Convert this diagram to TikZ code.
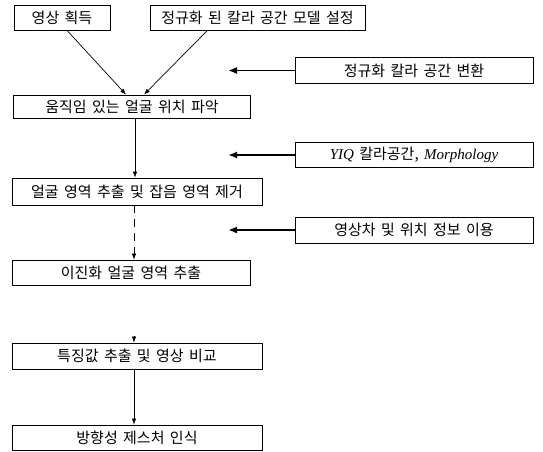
\documentclass[tikz,border=0pt]{standalone}
\usepackage{fontspec}
\setmainfont[WordSpace=1.6]{Noto Sans CJK KR}
\newfontfamily\serifL{Liberation Serif}
\usetikzlibrary{arrows.meta}
\tikzset{
  box/.style={draw=black, line width=0.8pt, fill=white, inner sep=0pt, font=\fontsize{15}{17}\selectfont},
  arr/.style={draw=black, line width=0.7pt, -{Latex[length=6pt,width=4.5pt]}},
  bigarr/.style={draw=black, line width=1.8pt, -{Latex[length=9pt,width=7pt]}},
}
\begin{document}
\begin{tikzpicture}[x=1pt,y=-1pt]
\useasboundingbox[fill=white] (0,0) rectangle (543,451);
% left column
\node[box, minimum width=96pt, minimum height=25pt] (b1) at (62,17.5) {영상 획득};
\node[box, minimum width=215pt, minimum height=25pt] (b2) at (257.5,17.5) {정규화 된 칼라 공간 모델 설정};
\node[box, minimum width=237pt, minimum height=23pt] (b3) at (132,106.5) {움직임 있는 얼굴 위치 파악};
\node[box, minimum width=250pt, minimum height=27pt] (b4) at (137,191.5) {얼굴 영역 추출 및 잡음 영역 제거};
\node[box, minimum width=238pt, minimum height=25pt] (b5) at (131,272.5) {이진화 얼굴 영역 추출};
\node[box, minimum width=250pt, minimum height=26pt] (b6) at (137,356) {특징값 추출 및 영상 비교};
\node[box, minimum width=250pt, minimum height=25pt] (b7) at (137,437.5) {방향성 제스처 인식};
% right column
\node[box, minimum width=238pt, minimum height=26pt] (r1) at (414,70.5) {정규화 칼라 공간 변환};
\node[box, minimum width=238pt, minimum height=25pt] (r2) at (414,155) {{\serifL\itshape YIQ} 칼라공간, {\serifL\itshape Morphology}};
\node[box, minimum width=238pt, minimum height=26pt] (r3) at (414,230) {영상차 및 위치 정보 이용};
% free ends
\coordinate (t1) at (228,70.5);
\coordinate (t2) at (228,155);
\coordinate (t3) at (228,230);
\coordinate (s6) at (134,336);
% connectors
\draw[arr] ([xshift=5pt]b1.south) -- ([xshift=-6pt]b3.north);
\draw[arr] ([xshift=-50pt]b2.south) -- ([xshift=12pt]b3.north);
\draw[arr] ([xshift=3pt]b3.south) -- ([xshift=-2pt]b4.north);
\draw[arr, dash pattern=on 8pt off 6pt] ([xshift=-3pt]b4.south) -- ([xshift=3pt]b5.north);
\draw[arr] (s6) -- (s6 |- b6.north);
\draw[arr] ([xshift=-3pt]b6.south) -- ([xshift=-3pt]b7.north);
\draw[bigarr] (r1.west) -- (t1);
\draw[bigarr] (r2.west) -- (t2);
\draw[bigarr] (r3.west) -- (t3);
\end{tikzpicture}
\end{document}
